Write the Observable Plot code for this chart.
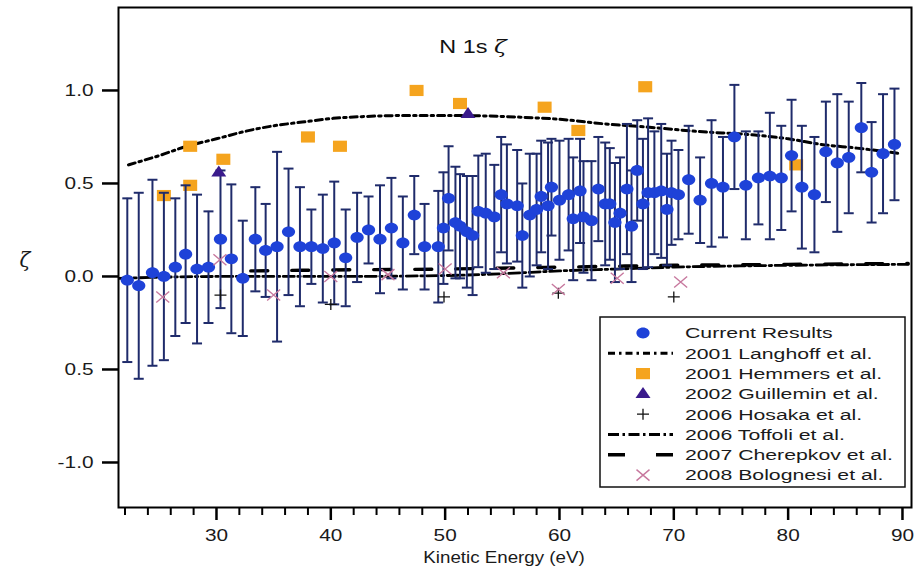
<!DOCTYPE html>
<html><head><meta charset="utf-8">
<script src="https://cdn.jsdelivr.net/npm/d3@7"></script>
<script src="https://cdn.jsdelivr.net/npm/@observablehq/plot@0.6"></script>
<style>
body{margin:0;background:#fff;font-family:"Liberation Sans",Arial,sans-serif}
#chart svg{display:block}
</style>
</head><body><div id="chart"></div><script>
// ---- data ----
const currentX = [22.2,23.2,24.4,25.4,26.4,27.3,28.3,29.3,30.35,31.3,32.3,33.4,34.3,35.3,36.3,37.3,38.3,39.3,40.3,41.3,42.3,43.3,44.3,45.3,46.3,47.3,48.2,49.4,49.85,50.3,50.9,51.3,51.9,52.4,52.9,53.55,54.3,54.9,55.4,56.3,56.75,57.4,58.0,58.4,59.0,59.3,60.0,60.8,61.2,61.8,62.1,62.8,63.4,64.0,64.4,64.85,65.3,65.9,66.3,66.8,67.3,67.75,68.3,68.9,69.4,69.8,70.4,71.3,72.3,73.3,74.3,75.3,76.3,77.4,78.4,79.4,80.3,81.2,82.3,83.3,84.3,85.3,86.4,87.3,88.3,89.3];
const currentY = [-0.02,-0.05,0.02,0.00,0.05,0.12,0.04,0.05,0.20,0.095,-0.01,0.20,0.14,0.16,0.24,0.16,0.16,0.15,0.18,0.10,0.21,0.25,0.20,0.26,0.18,0.33,0.16,0.16,0.26,0.42,0.29,0.27,0.24,0.22,0.35,0.34,0.32,0.44,0.39,0.38,0.22,0.33,0.36,0.43,0.38,0.48,0.41,0.44,0.31,0.46,0.32,0.30,0.47,0.39,0.39,0.29,0.34,0.47,0.27,0.57,0.39,0.45,0.45,0.46,0.36,0.45,0.44,0.52,0.41,0.50,0.48,0.75,0.49,0.53,0.54,0.53,0.65,0.48,0.44,0.67,0.61,0.64,0.80,0.56,0.66,0.71];
const currentErr = [0.44,0.50,0.50,0.45,0.37,0.37,0.40,0.30,0.37,0.40,0.31,0.28,0.25,0.51,0.34,0.32,0.20,0.29,0.33,0.26,0.24,0.18,0.29,0.27,0.25,0.21,0.23,0.30,0.30,0.28,0.30,0.28,0.30,0.32,0.30,0.32,0.28,0.31,0.32,0.30,0.28,0.33,0.30,0.30,0.34,0.26,0.32,0.30,0.33,0.28,0.30,0.32,0.28,0.33,0.30,0.32,0.30,0.35,0.30,0.27,0.35,0.40,0.33,0.36,0.30,0.28,0.24,0.29,0.23,0.34,0.27,0.28,0.29,0.25,0.34,0.28,0.30,0.33,0.31,0.27,0.37,0.30,0.24,0.27,0.32,0.30];

const langhoffX = [22.3,25,27.4,30,32.5,35,37.5,40.2,43,46,51,56.7,60,64,68.3,72,77.1,80,82.9,86,89.9];
const langhoffY = [0.60,0.65,0.70,0.74,0.78,0.81,0.83,0.85,0.86,0.865,0.865,0.856,0.845,0.82,0.80,0.78,0.76,0.74,0.71,0.69,0.66];

const hemmersX = [25.4,27.7,27.7,30.6,38.0,40.8,47.5,51.3,58.7,61.65,67.5,80.7];
const hemmersY = [0.435,0.70,0.49,0.63,0.75,0.70,1.00,0.93,0.91,0.785,1.02,0.60];

const guilleminX = [30.2,52.0];
const guilleminY = [0.56,0.875];

const hosakaX = [30.35,40.0,49.9,59.9,70.0];
const hosakaY = [-0.10,-0.15,-0.11,-0.09,-0.11];

const toffoliX = [21.5,30,40,50,55,60,65,70,80,90.5];
const toffoliY = [-0.01,0.0,0.0,0.005,0.015,0.03,0.04,0.05,0.06,0.065];

const cherepkovX = [33,40,50,60,70,80,90.5];
const cherepkovY = [0.03,0.035,0.04,0.05,0.06,0.065,0.07];

const bolognesiX = [25.3,30.3,35.0,40.0,45.0,50.0,55.1,59.9,65.05,70.6];
const bolognesiY = [-0.11,0.09,-0.10,0.0,0.01,0.04,0.02,-0.07,-0.01,-0.03];

const xMajorTicks = [30,40,50,60,70,80,90];
const xMinorTicks = [22,24,26,28,32,34,36,38,42,44,46,48,52,54,56,58,62,64,66,68,72,74,76,78,82,84,86,88];
const yTickValues = [-1.0,-0.5,0.0,0.5,1.0];
const yTickLabels = ["-1.0","0.5","0.0","0.5","1.0"];

const titleText = "N 1s ";
const titleSymbol = "ζ";
const yLabel = "ζ";
const xLabel = "Kinetic Energy (eV)";
const legendNames = ["Current Results","2001 Langhoff et al.","2001 Hemmers et al.","2002 Guillemin et al.","2006 Hosaka et al.","2006 Toffoli et al.","2007 Cherepkov et al.","2008 Bolognesi et al."];
const legendKinds = ["circle","langhoff","square","triangle","plus","toffoli","cherepkov","times"];

// ---- tables ----
const zip = (xs, ys) => xs.map((x, i) => ({x, y: ys[i]}));
const current = currentX.map((x, i) => ({x, y: currentY[i], e: currentErr[i]}));
const langhoff = zip(langhoffX, langhoffY);
const hemmers = zip(hemmersX, hemmersY);
const guillemin = zip(guilleminX, guilleminY);
const hosaka = zip(hosakaX, hosakaY);
const toffoli = zip(toffoliX, toffoliY);
const cherepkov = zip(cherepkovX, cherepkovY);
const bolognesi = zip(bolognesiX, bolognesiY);

// ---- styles (the original figure is stretched horizontally, so symbols are wide) ----
const BLUE = "#1e42d8", NAVY = "#1f2b6b", ORANGE = "#f5a41e", PURPLE = "#3a1b8c", MAUVE = "#c7789e";
const LANG_DASH = "7,4,2.5,4", TOFF_DASH = "11,3.5,2.5,3.5", CHER_DASH = "17,24";
const ellipseSym = (rx, ry) => ({draw(c) {
  const k = 0.5523;
  c.moveTo(rx, 0);
  c.bezierCurveTo(rx, k * ry, k * rx, ry, 0, ry);
  c.bezierCurveTo(-k * rx, ry, -rx, k * ry, -rx, 0);
  c.bezierCurveTo(-rx, -k * ry, -k * rx, -ry, 0, -ry);
  c.bezierCurveTo(k * rx, -ry, rx, -k * ry, rx, 0);
  c.closePath();
}});
const rectSym = (hx, hy) => ({draw(c) { c.moveTo(-hx, -hy); c.lineTo(hx, -hy); c.lineTo(hx, hy); c.lineTo(-hx, hy); c.closePath(); }});
const triSym = (hx, h) => ({draw(c) { c.moveTo(0, -h * 0.62); c.lineTo(hx, h * 0.38); c.lineTo(-hx, h * 0.38); c.closePath(); }});
const plusSym = (hx, hy) => ({draw(c) { c.moveTo(-hx, 0); c.lineTo(hx, 0); c.moveTo(0, -hy); c.lineTo(0, hy); }});
const timesSym = (hx, hy) => ({draw(c) { c.moveTo(-hx, -hy); c.lineTo(hx, hy); c.moveTo(-hx, hy); c.lineTo(hx, -hy); }});
const capSym = {draw(c) { c.moveTo(-5, 0); c.lineTo(5, 0); }};
const SYM = {
  circle: ellipseSym(6.6, 5.4), square: rectSym(7, 5.6), triangle: triSym(7.5, 11),
  plus: plusSym(6, 5.5), times: timesSym(6.5, 5.5)
};

const chart = Plot.plot({
  width: 915, height: 571,
  marginLeft: 118, marginRight: 4, marginTop: 7, marginBottom: 64,
  style: {fontFamily: "'Liberation Sans', Arial, sans-serif", fontSize: "16px", color: "#1a1a1a", background: "#fff", overflow: "visible"},
  x: {domain: [21.43, 90.79]},
  y: {domain: [-1.242, 1.446]},
  marks: [
    Plot.line(toffoli, {x: "x", y: "y", stroke: "#000", strokeWidth: 2.8, strokeDasharray: TOFF_DASH, curve: "monotone-x"}),
    Plot.line(cherepkov, {x: "x", y: "y", stroke: "#000", strokeWidth: 3.4, strokeDasharray: CHER_DASH, curve: "monotone-x"}),
    Plot.line(langhoff, {x: "x", y: "y", stroke: "#000", strokeWidth: 3, strokeDasharray: LANG_DASH, curve: "monotone-x"}),
    Plot.dot(hemmers, {x: "x", y: "y", symbol: SYM.square, fill: ORANGE}),
    Plot.ruleX(current, {x: "x", y1: d => d.y - d.e, y2: d => d.y + d.e, stroke: NAVY, strokeWidth: 2}),
    Plot.dot(current, {x: "x", y: d => d.y + d.e, symbol: capSym, fill: "none", stroke: NAVY, strokeWidth: 2}),
    Plot.dot(current, {x: "x", y: d => d.y - d.e, symbol: capSym, fill: "none", stroke: NAVY, strokeWidth: 2}),
    Plot.dot(current, {x: "x", y: "y", symbol: SYM.circle, fill: BLUE}),
    Plot.dot(guillemin, {x: "x", y: "y", symbol: SYM.triangle, fill: PURPLE}),
    Plot.dot(hosaka, {x: "x", y: "y", symbol: SYM.plus, fill: "none", stroke: "#111", strokeWidth: 1.3}),
    Plot.dot(bolognesi, {x: "x", y: "y", symbol: SYM.times, fill: "none", stroke: MAUVE, strokeWidth: 1.4}),
    Plot.frame({stroke: "#000", strokeWidth: 2}),
    Plot.axisY(yTickValues, {tickSize: 16, tickPadding: 9, strokeWidth: 2.5, stroke: "#000", fontSize: 16, label: null,
      tickFormat: d => yTickLabels[yTickValues.indexOf(d)]}),
    Plot.axisX(xMajorTicks, {tickSize: 13, tickPadding: 9, strokeWidth: 2.5, stroke: "#000", fontSize: 16, label: null}),
    Plot.axisX(xMinorTicks, {tickSize: 8, strokeWidth: 2, stroke: "#000", tickFormat: () => "", label: null}),
    Plot.text([xLabel], {text: d => d, frameAnchor: "bottom", dx: -11, dy: 55, fontSize: 16}),
    Plot.text([yLabel], {text: d => d, frameAnchor: "left", dx: -99, dy: 3, fontSize: 20, fontFamily: "'DejaVu Serif', serif", fontStyle: "italic"})
  ]
});
document.getElementById("chart").append(chart);

const svg = d3.select(chart);
// widen the sans text like the original (horizontally stretched figure)
function stretch(sel, f) {
  sel.each(function() {
    const w = this.getComputedTextLength();
    if (w > 0) d3.select(this).attr("textLength", (w * f).toFixed(1)).attr("lengthAdjust", "spacingAndGlyphs");
  });
}
svg.selectAll("g[aria-label='y-axis tick label'] text, g[aria-label='x-axis tick label'] text").call(stretch, 1.3);
svg.selectAll("g[aria-label='text'] text").filter(function() { return this.textContent === xLabel; }).call(stretch, 1.17);

// ---- title & legend overlays ----
const t = svg.append("text").attr("x", 473).attr("y", 47).attr("dy", "0.35em").attr("text-anchor", "middle")
  .attr("font-size", 18).attr("fill", "#111");
t.append("tspan").text(titleText);
t.append("tspan").attr("font-family", "'DejaVu Serif', serif").attr("font-style", "italic").text(titleSymbol);
t.call(stretch, 1.3);

const symPath = s => { const p = d3.path(); s.draw(p, 0); return p.toString(); };
const lg = svg.append("g").attr("transform", "translate(600,317)");
lg.append("rect").attr("width", 305).attr("height", 170).attr("fill", "#fff").attr("stroke", "#111").attr("stroke-width", 1.5);
legendNames.forEach((name, i) => {
  const cy = 16 + i * 20.3;
  const k = legendKinds[i];
  const g = lg.append("g").attr("transform", `translate(43,${cy})`);
  if (k === "circle") g.append("path").attr("d", symPath(SYM.circle)).attr("fill", BLUE);
  if (k === "square") g.append("path").attr("d", symPath(SYM.square)).attr("fill", ORANGE);
  if (k === "triangle") g.append("path").attr("d", symPath(SYM.triangle)).attr("fill", PURPLE);
  if (k === "plus") g.append("path").attr("d", symPath(SYM.plus)).attr("fill", "none").attr("stroke", "#111").attr("stroke-width", 1.3);
  if (k === "times") g.append("path").attr("d", symPath(SYM.times)).attr("fill", "none").attr("stroke", MAUVE).attr("stroke-width", 1.4);
  const line = (dash, w) => g.append("line").attr("x1", -35).attr("x2", 30).attr("stroke", "#000").attr("stroke-width", w).attr("stroke-dasharray", dash);
  if (k === "langhoff") line(LANG_DASH, 3);
  if (k === "toffoli") line(TOFF_DASH, 2.8);
  if (k === "cherepkov") line("17,31", 3.4);
  lg.append("text").attr("x", 85).attr("y", cy).attr("dy", "0.35em").attr("text-anchor", "start")
    .attr("font-size", 15.4).attr("fill", "#1a1a1a").text(name);
});
lg.selectAll("text").call(stretch, 1.38);
</script></body></html>
